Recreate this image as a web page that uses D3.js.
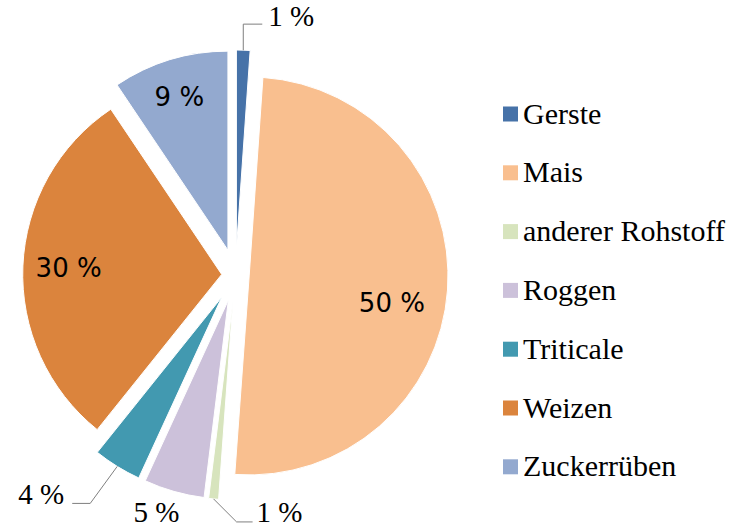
<!DOCTYPE html>
<html>
<head>
  <meta charset="utf-8">
  <script src="https://cdnjs.cloudflare.com/ajax/libs/d3/7.8.5/d3.min.js"></script>
  <style>
    body { margin: 0; background: #fff; }
  </style>
</head>
<body>
<svg width="744" height="529"></svg>
<script>
// data (share in %)
var categories = ["Gerste", "Mais", "anderer Rohstoff", "Roggen", "Triticale", "Weizen", "Zuckerrüben"];
var shares     = [1.1, 50.0, 0.8, 4.9, 3.9, 29.8, 9.4];
var labels     = ["1 %", "50 %", "1 %", "5 %", "4 %", "30 %", "9 %"];
var colors     = ["#4672a8", "#f9bf8f", "#d7e4bd", "#ccc1da", "#4299b0", "#db843d", "#93a9cf"];

var SERIF = "'Liberation Serif'";
var SANS  = "'DejaVu Sans'";

var svg = d3.select("svg");
var cx = 235.5, cy = 275, r = 199;

// how far each slice is pulled out of the pie
var explode = { "Mais": 13.7, "Weizen": 13.8 };
function offsetOf(name) { return explode[name] != null ? explode[name] : 26; }

// label placement: inside (k = fraction of radius, da = angle tweak in deg) or outside with a leader
var inside = {
  "Mais":        { k: 0.73, da: 6.7 },
  "Weizen":      { k: 0.77, da: 0 },
  "Zuckerrüben": { k: 0.81, da: -0.6 }
};
var outside = {
  "Gerste":           { line: [[0, -26], [19, -26]], tx: 25, ty: -24, anchor: "start" },
  "Triticale":        { line: [[-27, 37], [-45, 37]], tx: -53, ty: 38, anchor: "end" },
  "anderer Rohstoff": { line: [[23, 23], [39, 23]], tx: 43, ty: 23.5, anchor: "start" },
  "Roggen":           { line: null, tx: -17.5, ty: 31, anchor: "middle" }
};

var pie = d3.pie().sort(null).value(function(d) { return d; });
var arc = d3.arc().innerRadius(0).outerRadius(r);
var arcs = pie(shares);

function unit(a) { return [Math.sin(a), -Math.cos(a)]; }

var g = svg.append("g").attr("transform", "translate(" + cx + "," + cy + ")");

arcs.forEach(function(d, i) {
  var name = categories[i];
  var mid = (d.startAngle + d.endAngle) / 2;
  var u = unit(mid);
  var off = offsetOf(name);
  var ax = u[0] * off, ay = u[1] * off;

  var slice = g.append("g").attr("transform", "translate(" + ax + "," + ay + ")");
  slice.append("path")
    .attr("d", arc(d))
    .attr("fill", colors[i])
    .attr("stroke", "#fff")
    .attr("stroke-width", 1);

  if (inside[name]) {
    var p = inside[name];
    var v = unit(mid + p.da * Math.PI / 180);
    slice.append("text")
      .attr("x", v[0] * r * p.k)
      .attr("y", v[1] * r * p.k)
      .attr("dy", "0.36em")
      .attr("text-anchor", "middle")
      .style("font-family", SANS)
      .style("font-size", "26px")
      .text(labels[i]);
  } else if (outside[name]) {
    var o = outside[name];
    var ox = u[0] * r, oy = u[1] * r;
    if (o.line) {
      var pts = [[ox, oy]].concat(o.line.map(function(q) { return [ox + q[0], oy + q[1]]; }));
      slice.append("path")
        .attr("d", d3.line()(pts))
        .attr("fill", "none")
        .attr("stroke", "#7f7f7f")
        .attr("stroke-width", 1);
    }
    slice.append("text")
      .attr("x", ox + o.tx)
      .attr("y", oy + o.ty)
      .attr("text-anchor", o.anchor)
      .style("font-family", SERIF)
      .style("font-size", "29px")
      .text(labels[i]);
  }
});

// legend
var legend = svg.append("g").attr("transform", "translate(503,114)");
var row = legend.selectAll("g")
  .data(categories)
  .enter().append("g")
    .attr("transform", function(d, i) { return "translate(0," + (i * 58.8) + ")"; });

row.append("rect")
  .attr("x", 0)
  .attr("y", -7.5)
  .attr("width", 15)
  .attr("height", 15)
  .attr("fill", function(d, i) { return colors[i]; });

row.append("text")
  .attr("x", 20)
  .attr("y", 9.5)
  .style("font-family", SERIF)
  .style("font-size", "30px")
  .text(function(d) { return d; });
</script>
</body>
</html>
